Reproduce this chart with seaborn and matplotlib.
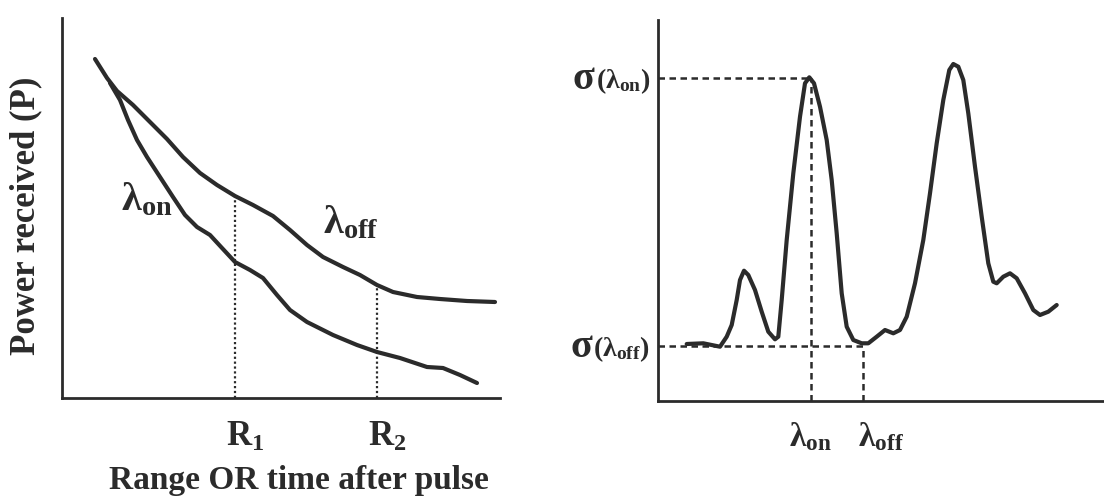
import matplotlib
matplotlib.use("Agg")
import matplotlib.pyplot as plt
import seaborn as sns

sns.set_style("white")
plt.rcParams["font.family"] = ["Liberation Serif", "DejaVu Serif"]
plt.rcParams["font.weight"] = "bold"
plt.rcParams["mathtext.fontset"] = "custom"
plt.rcParams["mathtext.rm"] = "Liberation Serif"
plt.rcParams["mathtext.bf"] = "Liberation Serif:bold"
plt.rcParams["mathtext.it"] = "Liberation Serif:italic"

INK = "#2b2b2b"

# left panel: received power vs range (schematic units)
range_off = [33, 45, 55, 71, 88, 105, 121, 138, 155, 173, 191, 211, 228, 245, 261,
             281, 298, 315, 331, 355, 378, 405, 433]
power_off = [339, 320, 307, 293, 276, 259, 241, 225, 213, 202, 193, 182, 168, 153, 141,
             131, 123, 113, 106, 101, 99, 97, 96]
range_on = [48, 58, 66, 75, 85, 98, 111, 123, 135, 148, 160, 173, 188, 201, 215,
            228, 245, 271, 295, 315, 338, 365, 381, 398, 415]
power_on = [315, 298, 278, 258, 241, 221, 201, 183, 171, 163, 150, 136, 128, 120, 103,
            88, 76, 63, 53, 46, 40, 31, 30, 23, 15]
r_marks = [173, 315]
r_tops = [202, 113]
r_labels = [r"$\mathbf{R}_{\mathbf{1}}$", r"$\mathbf{R}_{\mathbf{2}}$"]

# right panel: absorption cross-section vs wavelength (schematic units)
wavelength = [28.7, 45.3, 62, 68.7, 73.7, 78.7, 82, 86, 90.3, 97, 103.7, 110.3, 117, 120.3,
              123.7, 128.7, 135.3, 142, 147, 151.3, 156, 162, 168.7, 173.7, 178.7, 183.7,
              188.7, 195.3, 203.7, 210.3, 218.7, 227, 235.3, 242, 248.7, 257, 265.3, 272,
              278.7, 285.3, 291.3, 295.3, 300.3, 305.3, 310.3, 317, 323.7, 330.3, 335.3,
              338.7, 345.3, 352, 358.7, 367, 375.3, 382, 390.3, 398.7]
sigma = [57, 57.7, 54.3, 64.3, 76, 101, 121, 130.3, 126, 111, 89.3, 69.3, 61.7, 64.3,
         101, 161, 227.7, 284.3, 317.7, 323.7, 317.7, 294.3, 261, 221, 167.7, 107.7,
         74.3, 61, 57.7, 57.7, 64.3, 71, 67.7, 71, 84.3, 117.7, 161, 207.7,
         257.7, 301, 331, 337, 334.3, 321, 287.7, 234.3, 184.3, 137.7, 119.3,
         117.7, 124.3, 127.7, 122.7, 107.7, 91, 86, 89.3, 96]
lam_on, sig_on = 152.7, 322.7
lam_off, sig_off = 205.3, 55

fig = plt.figure(figsize=(11.04, 4.96), dpi=100)
ax1 = fig.add_axes([62 / 1104, 98 / 496, 438 / 1104, 380 / 496])
ax2 = fig.add_axes([658 / 1104, 95 / 496, 446 / 1104, 381 / 496])

# --- left
sns.lineplot(x=range_off, y=power_off, sort=False, ax=ax1, color=INK, lw=3.0)
sns.lineplot(x=range_on, y=power_on, sort=False, ax=ax1, color=INK, lw=3.0)
for xr, top, lab in zip(r_marks, r_tops, r_labels):
    ax1.plot([xr, xr], [0, top], ls=(0, (1, 1.2)), lw=1.6, color=INK)
    ax1.text(xr + 10, -39, lab, ha="center", va="center", fontsize=25, color=INK)
ax1.text(85, 198, r"$\mathbf{\lambda}_{\mathbf{on}}$", ha="center", va="center",
         fontsize=29, color=INK)
ax1.text(289, 175, r"$\mathbf{\lambda}_{\mathbf{off}}$", ha="center", va="center",
         fontsize=29, color=INK)
ax1.set_xlim(0, 438)
ax1.set_ylim(0, 380)

# --- right
sns.lineplot(x=wavelength, y=sigma, sort=False, ax=ax2, color=INK, lw=3.0)
dash = (0, (2.6, 1.8))
ax2.plot([0, lam_on], [sig_on, sig_on], ls=dash, lw=1.8, color=INK)
ax2.plot([lam_on, lam_on], [0, sig_on], ls=dash, lw=1.8, color=INK)
ax2.plot([0, lam_off], [sig_off, sig_off], ls=dash, lw=1.8, color=INK)
ax2.plot([lam_off, lam_off], [0, sig_off], ls=dash, lw=1.8, color=INK)
ax2.text(lam_on, -36, r"$\mathbf{\lambda}_{\mathbf{on}}$", ha="center", va="center",
         fontsize=24, color=INK)
ax2.text(lam_off + 18, -36, r"$\mathbf{\lambda}_{\mathbf{off}}$", ha="center", va="center",
         fontsize=24, color=INK)
for yv, sub in [(sig_on, "on"), (sig_off, "off")]:
    t = ax2.text(-8, yv - 3, r"$(\mathbf{\lambda}_{\mathbf{%s}})$" % sub, ha="right",
                 va="center", fontsize=20, color=INK)
    ax2.annotate("σ", xy=(0, 0.5), xycoords=t, xytext=(-1, 1), textcoords="offset points",
                 ha="right", va="center", fontsize=29, fontweight="bold", color=INK)
ax2.set_xlim(0, 446)
ax2.set_ylim(0, 381)

for ax in (ax1, ax2):
    sns.despine(ax=ax)
    for s in ("left", "bottom"):
        ax.spines[s].set_linewidth(2.0)
        ax.spines[s].set_color(INK)
    ax.set_xticks([])
    ax.set_yticks([])
    ax.set_xlabel("")
    ax.set_ylabel("")

ax1.set_xlabel("Range OR time after pulse", fontsize=24, fontweight="bold",
               color=INK, visible=True)
ax1.set_ylabel("Power received (P)", fontsize=25, fontweight="bold",
               color=INK, visible=True)
ax1.xaxis.set_label_coords(0.54, -0.175)
ax1.yaxis.set_label_coords(-0.045, 0.48)

fig.savefig("out.png", dpi=100, facecolor="white")
